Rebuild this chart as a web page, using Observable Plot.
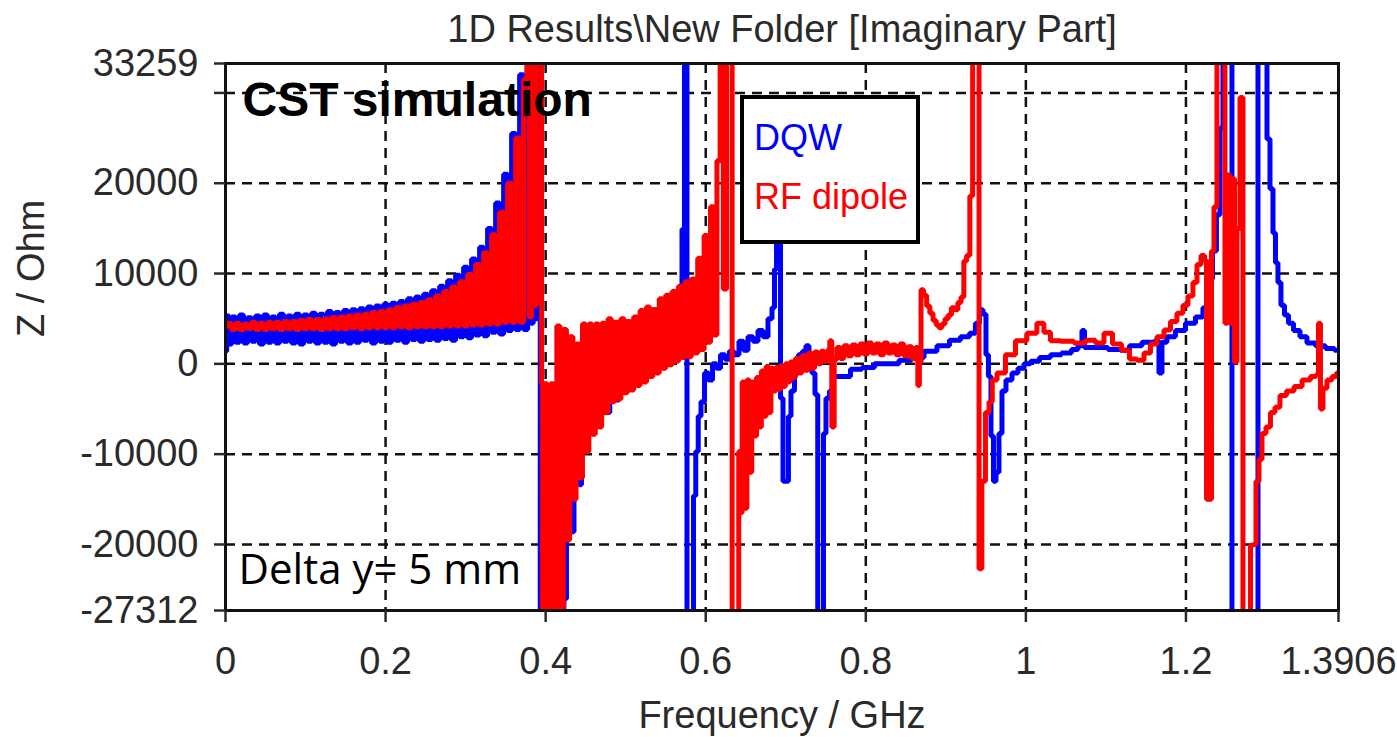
<!DOCTYPE html>
<html><head><meta charset="utf-8">
<script src="https://cdn.jsdelivr.net/npm/d3@7"></script>
<script src="https://cdn.jsdelivr.net/npm/@observablehq/plot@0.6"></script>
<style>
html,body{margin:0;padding:0;background:#fff;}
#chart{width:1397px;height:737px;}
</style></head><body><div id="chart"></div>
<script>
// ---------- DATA (frequency in GHz, imaginary impedance in Ohm) ----------
const dqw = [
[0,1400],[0.003,5300],[0.006,2200],[0.01,5200],[0.015,2400],[0.02,5400],[0.025,2300],[0.03,5100],[0.035,2500],[0.04,5300],
[0.045,2200],[0.05,5400],[0.055,2400],[0.06,5200],[0.065,2300],[0.07,5500],[0.075,2500],[0.08,5300],[0.085,2300],[0.09,5500],
[0.095,2200],[0.1,5400],[0.105,2500],[0.11,5600],[0.115,2300],[0.12,5500],[0.125,2400],[0.13,5800],[0.135,2200],[0.14,5700],
[0.145,2500],[0.15,5900],[0.155,2300],[0.16,6000],[0.165,2400],[0.17,6100],[0.175,2600],[0.18,6300],[0.185,2300],[0.19,6400],
[0.195,2500],[0.2,6600],[0.205,2400],[0.21,6700],[0.215,2600],[0.22,6900],[0.225,2400],[0.23,7200],[0.235,2700],[0.24,7400],
[0.245,2500],[0.25,7700],[0.255,2700],[0.26,8100],[0.265,2600],[0.27,8600],[0.275,2800],[0.28,9200],[0.285,2600],[0.29,9800],
[0.295,3000],[0.3,10700],[0.305,2900],[0.31,11600],[0.315,3200],[0.32,12900],[0.325,3100],[0.33,15000],[0.335,3500],[0.34,17800],
[0.345,3300],[0.35,21000],[0.355,3700],[0.36,25500],[0.365,3800],[0.37,32000],[0.375,3800],[0.38,40000],[0.383,4500],[0.386,40000],
[0.3886,5000],[0.3923,40000],[0.3942,-40000],[0.4048,-40000],[0.408,-2500],[0.4098,-12200],[0.413,-3000],[0.417,550],[0.419,-9000],[0.422,-40000],
[0.4235,-26000],[0.4285,-10000],[0.431,-13700],[0.4335,-18600],[0.4373,-8000],[0.4404,-8500],[0.4435,-13400],[0.446,-6000],[0.4498,0],[0.4535,2200],
[0.4573,1000],[0.461,-2000],[0.4635,2200],[0.4673,1000],[0.471,-2000],[0.4748,-3800],[0.4779,-5400],[0.4823,2000],[0.4866,-2500],[0.4898,-4000],
[0.4935,3000],[0.4998,-1000],[0.506,4000],[0.5097,2500],[0.5135,3000],[0.5185,0],[0.5247,5000],[0.531,1000],[0.5372,6000],[0.5435,2000],
[0.5497,6500],[0.556,7400],[0.561,7400],[0.5647,8000],[0.5685,8500],[0.5722,14900],[0.5747,40000],[0.5785,-40000],[0.5835,-40000],[0.586,-14600],
[0.5891,-9700],[0.5922,-5800],[0.596,-4200],[0.601,-1000],[0.606,-1800],[0.611,0],[0.616,-500],[0.621,1000],[0.6271,500],[0.6321,1400],
[0.6384,1000],[0.6447,2500],[0.6497,1500],[0.6559,3000],[0.6622,2500],[0.6684,3700],[0.6747,3000],[0.6809,5000],[0.6847,6200],[0.6872,10500],
[0.6897,13400],[0.6922,20000],[0.6947,-3800],[0.6984,-13000],[0.7021,-13000],[0.7046,-5800],[0.7084,-3000],[0.7134,-1000],[0.7183,1000],[0.7234,1400],
[0.7271,2000],[0.7309,1000],[0.7346,-1000],[0.7384,-3400],[0.7415,-40000],[0.7459,-40000],[0.7484,-7700],[0.7521,-3800],[0.7571,-3000],[0.7621,-1400],
[0.7746,-1400],[0.7871,-600],[0.8033,-400],[0.8183,0],[0.8333,0],[0.8496,400],[0.8646,700],[0.8808,1400],[0.897,2000],[0.912,2600],
[0.9245,3000],[0.9345,3400],[0.9395,4500],[0.9445,6000],[0.9483,5500],[0.952,1000],[0.9545,-1400],[0.9583,-8000],[0.9608,-13000],[0.9645,-12000],
[0.9683,-7700],[0.972,-3000],[0.9783,-1800],[0.987,-1000],[0.9933,-500],[1.002,0],[1.0095,300],[1.0245,700],[1.037,1000],[1.052,1200],
[1.062,1600],[1.0682,2000],[1.072,3700],[1.0745,1800],[1.0932,1800],[1.112,1600],[1.1244,1500],[1.1344,2000],[1.1557,2400],[1.1644,2500],
[1.1682,-1000],[1.1719,2400],[1.1806,3000],[1.1931,3700],[1.2056,4500],[1.2181,5200],[1.2244,6200],[1.2306,9400],[1.2356,12500],[1.2406,16500],
[1.2444,26100],[1.2481,40000],[1.2556,40000],[1.2594,-40000],[1.2881,-40000],[1.2919,40000],[1.2994,40000],[1.3031,24900],[1.3069,19400],[1.3106,14500],
[1.3131,11200],[1.3168,9000],[1.3206,6500],[1.3256,5400],[1.3306,4500],[1.3381,3700],[1.3468,3000],[1.3556,2300],[1.368,2000],[1.3806,1700],[1.3906,1500]
];

const rfDipole = [
[0,4100],[0.005,4500],[0.01,3800],[0.015,4500],[0.02,3800],[0.025,4400],[0.03,3900],[0.035,4600],[0.04,3800],[0.045,4500],
[0.05,3800],[0.055,4600],[0.06,3900],[0.065,4600],[0.07,3800],[0.075,4700],[0.08,3900],[0.085,4700],[0.09,3800],[0.095,4800],
[0.1,3900],[0.105,4900],[0.11,3900],[0.115,4900],[0.12,3800],[0.125,5000],[0.13,3900],[0.135,5100],[0.14,3900],[0.145,5200],
[0.15,3900],[0.155,5300],[0.16,4000],[0.165,5400],[0.17,3900],[0.175,5500],[0.18,4000],[0.185,5700],[0.19,4000],[0.195,5800],
[0.2,4000],[0.205,6000],[0.21,4000],[0.215,6200],[0.22,4100],[0.225,6400],[0.23,4000],[0.235,6600],[0.24,4100],[0.245,6800],
[0.25,4100],[0.255,7100],[0.26,4100],[0.265,7500],[0.27,4100],[0.275,8000],[0.28,4200],[0.285,8500],[0.29,4200],[0.295,9100],
[0.3,4200],[0.305,9900],[0.31,4300],[0.315,11000],[0.32,4300],[0.325,12300],[0.33,4400],[0.335,14300],[0.34,4400],[0.345,16800],
[0.35,4600],[0.355,20000],[0.36,4600],[0.365,25000],[0.37,4600],[0.375,31500],[0.378,40000],[0.381,5200],[0.384,40000],[0.387,6500],
[0.39,40000],[0.3945,40000],[0.3955,-2200],[0.397,-40000],[0.4,-2200],[0.404,-40000],[0.408,-2200],[0.412,-40000],[0.416,4200],[0.42,-40000],[0.424,3800],
[0.428,-19500],[0.432,3000],[0.436,-15000],[0.44,2200],[0.444,-12600],[0.448,4400],[0.452,-9700],[0.456,4400],[0.46,-7800],[0.464,4400],
[0.468,-7000],[0.472,4500],[0.476,-5400],[0.48,5000],[0.484,-4200],[0.488,4600],[0.492,-3900],[0.496,5000],[0.5,-3200],[0.504,4700],
[0.508,-2900],[0.512,5200],[0.516,-2400],[0.52,5900],[0.524,-2000],[0.528,6300],[0.532,-1400],[0.536,6000],[0.54,-1000],[0.544,7200],
[0.548,-500],[0.552,7600],[0.556,-100],[0.56,8000],[0.564,300],[0.568,8600],[0.572,700],[0.576,9100],[0.58,800],[0.584,9400],
[0.588,1200],[0.592,11700],[0.596,1600],[0.6,14200],[0.604,2400],[0.608,17400],[0.612,3200],[0.616,22500],[0.62,40000],[0.624,8300],
[0.628,40000],[0.632,40000],[0.634,-40000],[0.64,-40000],[0.6425,-9700],[0.644,-16500],[0.647,-2000],[0.65,-16000],[0.653,-1800],[0.656,-12000],
[0.659,-2000],[0.662,-8000],[0.665,-1500],[0.668,-7000],[0.671,-800],[0.674,-5800],[0.677,-300],[0.68,-5400],[0.683,-500],[0.686,-3000],
[0.689,-400],[0.692,-2800],[0.695,-200],[0.698,-2500],[0.701,0],[0.704,-2000],[0.707,200],[0.71,-1500],[0.714,600],[0.718,-1000],
[0.722,900],[0.726,-700],[0.73,1200],[0.734,-500],[0.738,1300],[0.742,0],[0.746,1400],[0.75,300],[0.754,1500],[0.756,2550],
[0.759,-7000],[0.762,500],[0.766,1800],[0.77,600],[0.775,2000],[0.78,900],[0.785,2100],[0.79,1000],[0.795,2200],[0.8,1100],
[0.805,2300],[0.81,1200],[0.815,2200],[0.82,1000],[0.825,2300],[0.83,1200],[0.835,2100],[0.84,1000],[0.845,2200],[0.85,900],
[0.855,1900],[0.86,600],[0.864,1800],[0.866,-2400],[0.868,200],[0.87,8200],[0.874,7600],[0.878,6400],[0.882,5600],[0.886,4800],
[0.89,4300],[0.893,4000],[0.897,4400],[0.901,5000],[0.905,5400],[0.909,6200],[0.913,6000],[0.917,6800],[0.921,7400],[0.924,11400],
[0.928,12000],[0.932,18600],[0.935,40000],[0.94,40000],[0.943,-22700],[0.947,-13000],[0.952,-5400],[0.956,-4200],[0.96,-1800],[0.968,-1000],
[0.981,1000],[0.993,2550],[1.0095,3400],[1.018,4500],[1.027,3500],[1.0345,2550],[1.052,2500],[1.068,2300],[1.0807,2600],[1.0932,2300],
[1.102,3400],[1.1145,2200],[1.1244,1500],[1.1344,550],[1.1432,400],[1.152,1200],[1.1594,2200],[1.1682,3000],[1.177,3760],[1.1844,4700],
[1.1931,5600],[1.1994,6500],[1.2056,7500],[1.2119,9000],[1.2157,11000],[1.222,12000],[1.2244,11500],[1.2269,-15000],[1.2307,-15000],[1.2332,12500],
[1.2369,17400],[1.2406,40000],[1.2469,40000],[1.2506,4500],[1.2531,20900],[1.2556,4500],[1.2594,20500],[1.2619,200],[1.2656,15000],[1.2694,29500],
[1.2731,-40000],[1.2794,-40000],[1.2819,-20100],[1.2856,-20000],[1.2894,-13000],[1.2931,-10600],[1.2969,-7700],[1.3031,-7000],[1.3081,-5400],[1.3143,-4800],
[1.3206,-3500],[1.3306,-3000],[1.3396,-2500],[1.3506,-1800],[1.3606,-1400],[1.3643,-1200],[1.3668,4500],[1.3693,-5000],[1.3731,-2700],[1.3793,-1800],
[1.3856,-1400],[1.3906,-1000]
];

const seriesNames = ["DQW", "RF dipole"];
const seriesColors = ["#0000ff", "#ff0000"];
const xTicks = [0, 0.2, 0.4, 0.6, 0.8, 1, 1.2, 1.3906];
const yTicks = [-27312, -20000, -10000, 0, 10000, 20000, 30000, 33259];
const yTickLabels = ["-27312", "-20000", "-10000", "0", "10000", "20000", "", "33259"];
const xGridValues = [0.2, 0.4, 0.6, 0.8, 1, 1.2];
const yGridValues = [-20000, -10000, 0, 10000, 20000, 30000];
const xDomain = [0, 1.3906];
const yDomain = [-27312, 33259];
const titleText = "1D Results\\New Folder [Imaginary Part]";
const xLabelText = "Frequency / GHz";
const yLabelText = "Z / Ohm";
const noteTop = "CST simulation";
const noteBottom = "Delta y= 5 mm";

// ---------- CHART ----------
const font = "'Liberation Sans', Arial, sans-serif";
const gridStyle = {stroke: "#111", strokeOpacity: 1, strokeWidth: 2.5, strokeDasharray: "10,7"};
const lineStyle = {x: d => d[0], y: d => d[1], strokeWidth: 5, curve: "step", strokeLinejoin: "miter", clip: true};

const chart = Plot.plot({
  width: 1397, height: 737,
  marginLeft: 225, marginRight: 59, marginTop: 63, marginBottom: 127,
  style: {fontFamily: font, background: "#fff", color: "#2a2a2a"},
  x: {domain: xDomain},
  y: {domain: yDomain},
  marks: [
    Plot.gridX(xGridValues, gridStyle),
    Plot.gridY(yGridValues, gridStyle),
    Plot.line(dqw, {...lineStyle, stroke: seriesColors[0]}),
    Plot.line(rfDipole, {...lineStyle, stroke: seriesColors[1]}),
    Plot.frame({stroke: "#111", strokeWidth: 3}),
    Plot.axisX(xTicks, {tickSize: 12, tickPadding: 25, strokeWidth: 2.5, fontSize: 38, color: "#2a2a2a",
      tickFormat: d => String(d), label: null}),
    Plot.axisY(yTicks, {tickSize: 11, tickPadding: 16, strokeWidth: 2.5, fontSize: 38, color: "#2a2a2a",
      tickFormat: d => yTickLabels[yTicks.indexOf(d)], label: null}),
    Plot.text([titleText], {frameAnchor: "top", dy: -34, fontSize: 38, fill: "#2a2a2a", lineAnchor: "middle"}),
    Plot.text([xLabelText], {frameAnchor: "bottom", dy: 105, fontSize: 38, fill: "#2a2a2a", lineAnchor: "middle"}),
    Plot.text([yLabelText], {frameAnchor: "left", dx: -194, rotate: -90, fontSize: 38, fill: "#2a2a2a", lineAnchor: "middle"}),
    Plot.text([noteTop], {frameAnchor: "top-left", dx: 17, dy: 37, textAnchor: "start", lineAnchor: "middle",
      fontSize: 48, fontWeight: "bold", fontFamily: "'Liberation Sans', Arial, sans-serif", fill: "#000"}),
    Plot.text([noteBottom], {frameAnchor: "bottom-left", dx: 13, dy: -40, textAnchor: "start", lineAnchor: "middle",
      fontSize: 42, fontFamily: "'Open Sans', sans-serif", fill: "#000"})
  ]
});
document.getElementById("chart").appendChild(chart);

// ---------- LEGEND (boxed, white background) ----------
const svg = d3.select(chart);
const lg = svg.append("g");
lg.append("rect").attr("x", 742).attr("y", 97).attr("width", 176).attr("height", 145)
  .attr("fill", "#fff").attr("stroke", "#000").attr("stroke-width", 4);
seriesNames.forEach((name, i) => {
  lg.append("text").attr("x", 754).attr("y", 150 + i * 59).attr("text-anchor", "start")
    .attr("font-family", font).attr("font-size", 36).attr("fill", seriesColors[i]).text(name);
});
</script>
</body></html>
